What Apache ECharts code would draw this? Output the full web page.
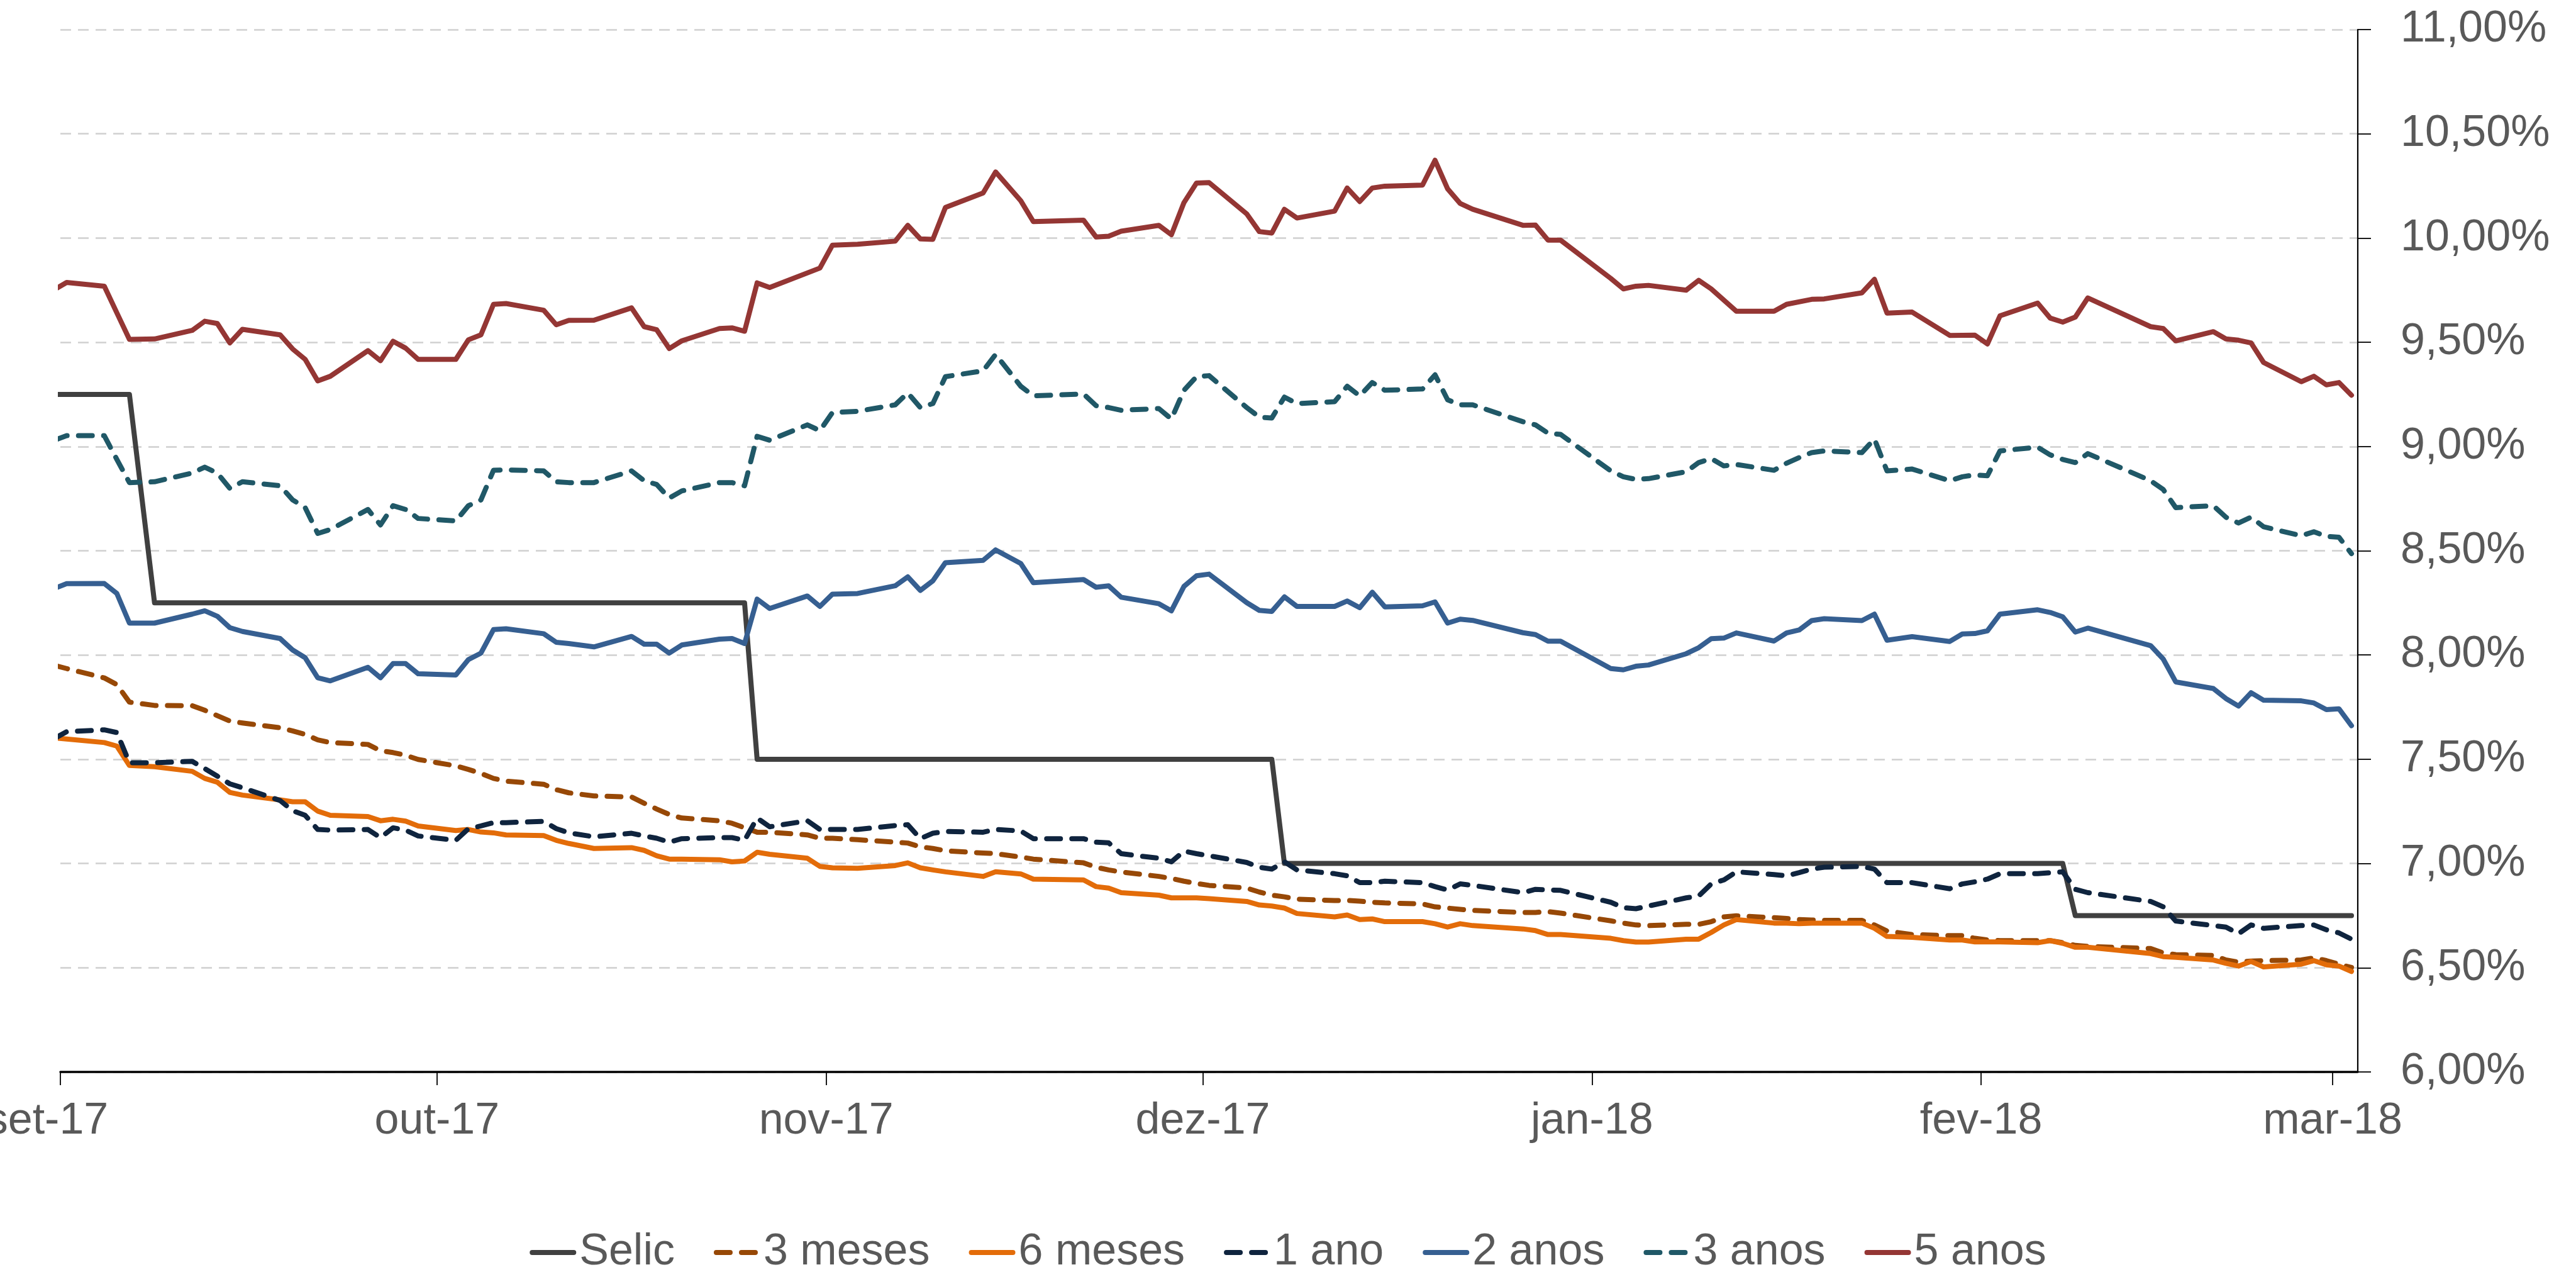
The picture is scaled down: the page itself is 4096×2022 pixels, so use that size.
<!DOCTYPE html>
<html>
<head>
<meta charset="utf-8">
<script src="https://cdn.jsdelivr.net/npm/echarts@6/dist/echarts.min.js"></script>
<style>
html,body{margin:0;padding:0;background:#fff;}
#chart{width:4096px;height:2022px;}
</style>
</head>
<body>
<div id="chart"></div>
<script>
const xTickLabels = ['set-17','out-17','nov-17','dez-17','jan-18','fev-18','mar-18'];
const seriesNames = ['Selic','3 meses','6 meses','1 ano','2 anos','3 anos','5 anos'];

const dates = [
'2017-08-31',
'2017-09-01',
'2017-09-04','2017-09-05','2017-09-06','2017-09-08',
'2017-09-11','2017-09-12','2017-09-13','2017-09-14','2017-09-15',
'2017-09-18','2017-09-19','2017-09-20','2017-09-21','2017-09-22',
'2017-09-25','2017-09-26','2017-09-27','2017-09-28','2017-09-29',
'2017-10-02','2017-10-03','2017-10-04','2017-10-05','2017-10-06',
'2017-10-09','2017-10-10','2017-10-11','2017-10-13',
'2017-10-16','2017-10-17','2017-10-18','2017-10-19','2017-10-20',
'2017-10-23','2017-10-24','2017-10-25','2017-10-26','2017-10-27',
'2017-10-30','2017-10-31','2017-11-01','2017-11-03',
'2017-11-06','2017-11-07','2017-11-08','2017-11-09','2017-11-10',
'2017-11-13','2017-11-14','2017-11-16','2017-11-17',
'2017-11-21','2017-11-22','2017-11-23','2017-11-24',
'2017-11-27','2017-11-28','2017-11-29','2017-11-30','2017-12-01',
'2017-12-04','2017-12-05','2017-12-06','2017-12-07','2017-12-08',
'2017-12-11','2017-12-12','2017-12-13','2017-12-14','2017-12-15',
'2017-12-18','2017-12-19','2017-12-20','2017-12-21','2017-12-22',
'2017-12-26','2017-12-27','2017-12-28','2017-12-29',
'2018-01-02','2018-01-03','2018-01-04','2018-01-05',
'2018-01-08','2018-01-09','2018-01-10','2018-01-11','2018-01-12',
'2018-01-15','2018-01-16','2018-01-17','2018-01-18','2018-01-19',
'2018-01-22','2018-01-23','2018-01-24','2018-01-26',
'2018-01-29','2018-01-30','2018-01-31','2018-02-01','2018-02-02',
'2018-02-05','2018-02-06','2018-02-07','2018-02-08','2018-02-09',
'2018-02-14','2018-02-15','2018-02-16',
'2018-02-19','2018-02-20','2018-02-21','2018-02-22','2018-02-23',
'2018-02-26','2018-02-27','2018-02-28','2018-03-01','2018-03-02'
];

const selic = [
9.25,
9.25,
9.25,9.25,9.25,8.25,
8.25,8.25,8.25,8.25,8.25,
8.25,8.25,8.25,8.25,8.25,
8.25,8.25,8.25,8.25,8.25,
8.25,8.25,8.25,8.25,8.25,
8.25,8.25,8.25,8.25,
8.25,8.25,8.25,8.25,8.25,
8.25,8.25,8.25,7.50,7.50,
7.50,7.50,7.50,7.50,
7.50,7.50,7.50,7.50,7.50,
7.50,7.50,7.50,7.50,
7.50,7.50,7.50,7.50,
7.50,7.50,7.50,7.50,7.50,
7.50,7.50,7.50,7.00,7.00,
7.00,7.00,7.00,7.00,7.00,
7.00,7.00,7.00,7.00,7.00,
7.00,7.00,7.00,7.00,
7.00,7.00,7.00,7.00,
7.00,7.00,7.00,7.00,7.00,
7.00,7.00,7.00,7.00,7.00,
7.00,7.00,7.00,7.00,
7.00,7.00,7.00,7.00,7.00,
7.00,7.00,7.00,6.75,6.75,
6.75,6.75,6.75,
6.75,6.75,6.75,6.75,6.75,
6.75,6.75,6.75,6.75,6.75
];

const m3 = [
7.951,
7.935,
7.890,7.858,7.774,7.758,
7.757,7.735,7.709,7.683,7.674,
7.651,7.636,7.619,7.593,7.580,
7.571,7.541,7.532,7.519,7.499,
7.468,7.451,7.432,7.408,7.395,
7.380,7.354,7.339,7.324,
7.319,7.289,7.261,7.235,7.218,
7.205,7.193,7.171,7.150,7.150,
7.137,7.121,7.121,7.114,
7.102,7.098,7.080,7.072,7.061,
7.050,7.047,7.031,7.021,
7.003,6.982,6.969,6.959,
6.938,6.928,6.915,6.904,6.895,
6.882,6.863,6.848,6.840,6.829,
6.822,6.823,6.819,6.814,6.811,
6.806,6.792,6.786,6.780,6.775,
6.765,6.765,6.769,6.762,
6.725,6.714,6.705,6.702,
6.708,6.708,6.721,6.744,6.749,
6.740,6.736,6.731,6.729,6.727,
6.727,6.705,6.676,6.659,
6.654,6.654,6.641,6.633,6.630,
6.630,6.630,6.620,6.607,6.602,
6.592,6.571,6.563,
6.559,6.537,6.527,6.532,6.534,
6.537,6.547,6.534,6.517,6.501
];

const m6 = [
7.602,
7.597,
7.580,7.563,7.470,7.464,
7.442,7.408,7.390,7.341,7.328,
7.305,7.296,7.296,7.251,7.231,
7.225,7.205,7.212,7.203,7.180,
7.158,7.163,7.151,7.147,7.137,
7.134,7.111,7.096,7.072,
7.076,7.063,7.037,7.021,7.021,
7.018,7.008,7.012,7.054,7.044,
7.025,6.986,6.979,6.977,
6.990,7.003,6.979,6.969,6.960,
6.938,6.960,6.950,6.925,
6.921,6.889,6.882,6.860,
6.848,6.835,6.835,6.835,6.831,
6.818,6.801,6.796,6.786,6.760,
6.744,6.753,6.731,6.734,6.721,
6.721,6.711,6.695,6.711,6.702,
6.686,6.678,6.659,6.659,
6.641,6.630,6.623,6.623,
6.637,6.637,6.669,6.705,6.731,
6.714,6.714,6.711,6.714,6.714,
6.714,6.689,6.650,6.646,
6.633,6.633,6.624,6.624,6.624,
6.620,6.630,6.617,6.598,6.598,
6.568,6.553,6.550,
6.537,6.521,6.508,6.530,6.504,
6.517,6.534,6.514,6.508,6.482
];

const y1 = [
7.599,
7.632,
7.641,7.628,7.483,7.483,
7.490,7.455,7.419,7.382,7.363,
7.302,7.253,7.231,7.163,7.160,
7.163,7.124,7.171,7.160,7.132,
7.111,7.167,7.180,7.196,7.196,
7.202,7.167,7.147,7.128,
7.145,7.132,7.121,7.102,7.119,
7.124,7.124,7.111,7.218,7.176,
7.205,7.163,7.163,7.163,
7.182,7.186,7.119,7.145,7.154,
7.150,7.163,7.156,7.119,
7.119,7.102,7.099,7.047,
7.025,7.008,7.059,7.047,7.037,
7.005,6.982,6.973,7.008,6.969,
6.951,6.941,6.908,6.908,6.915,
6.908,6.889,6.873,6.902,6.895,
6.860,6.876,6.873,6.871,
6.814,6.788,6.783,6.796,
6.835,6.844,6.902,6.921,6.960,
6.947,6.941,6.956,6.973,6.982,
6.986,6.973,6.908,6.908,
6.879,6.902,6.912,6.925,6.951,
6.951,6.956,6.960,6.876,6.860,
6.818,6.792,6.724,
6.702,6.695,6.663,6.705,6.689,
6.702,6.705,6.682,6.667,6.637
];

const y2 = [
8.319,
8.342,
8.343,8.295,8.153,8.153,
8.196,8.212,8.186,8.131,8.113,
8.079,8.024,7.987,7.891,7.876,
7.941,7.891,7.959,7.959,7.910,
7.904,7.978,8.009,8.122,8.126,
8.102,8.061,8.055,8.039,
8.089,8.052,8.052,8.009,8.048,
8.076,8.079,8.055,8.268,8.223,
8.283,8.233,8.292,8.295,
8.332,8.375,8.310,8.356,8.443,
8.454,8.504,8.439,8.347,
8.362,8.325,8.332,8.277,
8.246,8.212,8.329,8.380,8.388,
8.251,8.214,8.209,8.279,8.233,
8.233,8.259,8.227,8.301,8.231,
8.236,8.255,8.153,8.172,8.166,
8.107,8.098,8.066,8.066,
7.935,7.929,7.946,7.952,
8.006,8.035,8.078,8.081,8.106,
8.067,8.106,8.120,8.165,8.174,
8.165,8.196,8.071,8.088,
8.065,8.101,8.103,8.116,8.196,
8.217,8.204,8.183,8.110,8.129,
8.045,7.981,7.871,
7.839,7.791,7.755,7.819,7.783,
7.780,7.770,7.738,7.742,7.661
];

const y3 = [
9.030,
9.052,
9.052,8.938,8.827,8.831,
8.873,8.901,8.873,8.799,8.831,
8.812,8.744,8.707,8.583,8.602,
8.698,8.624,8.716,8.698,8.655,
8.643,8.716,8.744,8.886,8.888,
8.883,8.831,8.827,8.827,
8.883,8.836,8.818,8.753,8.787,
8.827,8.827,8.812,9.049,9.030,
9.104,9.076,9.163,9.169,
9.200,9.257,9.187,9.206,9.335,
9.363,9.442,9.289,9.243,
9.252,9.196,9.187,9.174,
9.182,9.132,9.270,9.335,9.340,
9.187,9.141,9.137,9.237,9.206,
9.215,9.289,9.243,9.307,9.270,
9.276,9.344,9.224,9.200,9.200,
9.119,9.104,9.064,9.058,
8.883,8.855,8.842,8.846,
8.879,8.923,8.942,8.907,8.914,
8.886,8.920,8.947,8.971,8.979,
8.971,9.036,8.883,8.892,
8.836,8.855,8.864,8.860,8.979,
8.997,8.960,8.938,8.923,8.966,
8.836,8.794,8.707,
8.716,8.661,8.633,8.661,8.615,
8.572,8.591,8.569,8.565,8.486
];

const y5 = [
9.752,
9.787,
9.769,9.641,9.514,9.516,
9.557,9.601,9.590,9.497,9.562,
9.536,9.468,9.418,9.315,9.337,
9.460,9.412,9.505,9.472,9.418,
9.418,9.512,9.536,9.682,9.686,
9.654,9.584,9.605,9.606,
9.665,9.575,9.560,9.470,9.507,
9.566,9.569,9.553,9.785,9.763,
null,9.856,9.966,9.970,
9.985,10.061,9.996,9.994,10.147,
10.216,10.317,10.179,10.079,
10.086,10.005,10.009,10.033,
10.061,10.016,10.170,10.264,10.266,
10.116,10.031,10.024,10.138,10.096,
10.129,10.240,10.175,10.240,10.249,
10.254,10.373,10.236,10.166,10.138,
10.061,10.062,9.990,9.990,
9.806,9.756,9.769,9.773,
9.750,9.797,9.756,null,9.649,
9.649,9.682,null,9.706,9.708,
9.737,9.802,9.640,9.645,
9.533,null,9.534,9.492,9.627,
9.688,9.616,9.597,9.621,9.713,
9.575,9.566,9.507,
9.551,9.516,9.510,9.497,9.403,
9.311,9.337,9.296,9.307,9.246
];

const seriesValues = [selic, m3, m6, y1, y2, y3, y5];
const seriesColors = ['#404040','#974806','#E36C09','#0F243E','#365F91','#205867','#943634'];
const seriesDashed = [false, true, false, true, false, true, false];

const DAY = 86400000;
const textColor = '#595959';
const fontFamily = '"Liberation Sans", Arial, sans-serif';

function toPairs(vals){
  return dates.map((d, i) => [d + ' 12:00:00', vals[i]]);
}

const series = seriesNames.map((name, i) => ({
  name: name,
  type: 'line',
  data: toPairs(seriesValues[i]),
  symbol: 'none',
  showSymbol: false,
  connectNulls: true,
  clip: true,
  smooth: false,
  lineStyle: {
    color: seriesColors[i],
    width: 8,
    type: seriesDashed[i] ? [22, 18] : 'solid',
    cap: 'round',
    join: 'round'
  },
  itemStyle: { color: seriesColors[i] },
  emphasis: { disabled: true }
}));

const chart = echarts.init(document.getElementById('chart'), null, { renderer: 'canvas' });
chart.setOption({
  animation: false,
  backgroundColor: '#ffffff',
  textStyle: { fontFamily: fontFamily },
  grid: { left: 96, right: 347, top: 47, bottom: 318, containLabel: false, outerBoundsMode: 'none' },
  legend: {
    data: seriesNames,
    left: 'center',
    top: 1946,
    itemWidth: 66,
    itemHeight: 8,
    itemGap: 62,
    itemStyle: { opacity: 0 },
    lineStyle: { width: 'inherit', type: 'inherit', cap: 'round' },
    textStyle: { color: textColor, fontSize: 70, fontFamily: fontFamily, lineHeight: 80, padding: [0,0,0,4] },
    inactiveColor: '#ccc'
  },
  xAxis: {
    type: 'time',
    min: new Date(2017, 8, 1).getTime(),
    max: new Date(2018, 2, 3).getTime(),
    splitNumber: 6,
    minInterval: 28 * DAY,
    axisLine: { show: true, onZero: false, lineStyle: { color: '#000000', width: 3.5 } },
    axisTick: { show: true, inside: false, length: 21, lineStyle: { color: '#000000', width: 1.8 } },
    splitLine: { show: false },
    axisLabel: {
      color: textColor,
      fontSize: 70,
      fontFamily: fontFamily,
      margin: 44,
      hideOverlap: false,
      formatter: function (value) {
        const d = new Date(value);
        const idx = (d.getFullYear() - 2017) * 12 + d.getMonth() - 8;
        if (idx === 0) return '{first|' + xTickLabels[0] + '}';
        return xTickLabels[idx] || '';
      },
      rich: {
        first: { color: textColor, fontSize: 70, fontFamily: fontFamily, padding: [0, 42, 0, 0] }
      }
    }
  },
  yAxis: {
    type: 'value',
    position: 'right',
    min: 6,
    max: 11,
    interval: 0.5,
    axisLine: { show: true, lineStyle: { color: '#000000', width: 2.2 } },
    axisTick: { show: true, inside: false, length: 21, lineStyle: { color: '#000000', width: 1.8 } },
    splitLine: { show: true, lineStyle: { color: '#d0d0d0', width: 2.5, type: [17, 11] } },
    axisLabel: {
      color: textColor,
      fontSize: 70,
      fontFamily: fontFamily,
      margin: 68,
      formatter: function (v) { return v.toFixed(2).replace('.', ',') + '%'; }
    }
  },
  series: series
});
</script>
</body>
</html>
